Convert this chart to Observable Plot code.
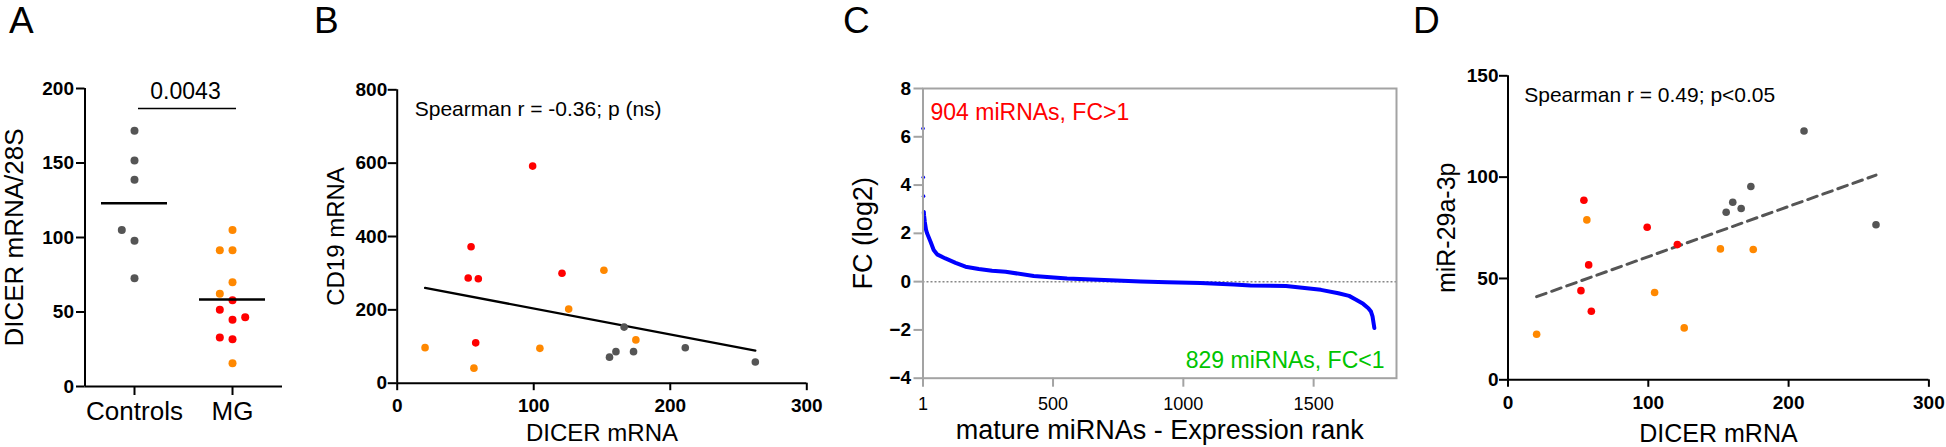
<!DOCTYPE html>
<html>
<head>
<meta charset="utf-8">
<script src="https://cdn.jsdelivr.net/npm/d3@7"></script>
<script src="https://cdn.jsdelivr.net/npm/@observablehq/plot@0.6"></script>
<style>
  html, body { margin: 0; padding: 0; background: #fff; }
  #page { position: relative; width: 1946px; height: 447px; overflow: hidden; background: #fff;
          font-family: "Liberation Sans", Arial, Helvetica, sans-serif; }
  .panel { position: absolute; top: 0; }
  .letter { position: absolute; top: 0px; font-size: 37px; line-height: normal; color: #000; }
</style>
</head>
<body>
<div id="page">
  <div class="letter" style="left:9px">A</div>
  <div class="letter" style="left:314px">B</div>
  <div class="letter" style="left:843px">C</div>
  <div class="letter" style="left:1413px">D</div>
</div>
<script>
// ---------------- DATA ----------------
// Panel A: DICER mRNA / 28S
const groupLabelsA = ["Controls", "MG"];
const controlsA = [171.6, 151.7, 138.8, 97.8, 105.0, 72.7];
const mgA = [105.0, 91.5, 91.5, 70.0, 62.2, 57.9, 51.5, 44.8, 46.5, 31.7, 32.9, 15.6];
const mgSubgroupA = ["MG-2", "MG-2", "MG-2", "MG-2", "MG-2", "MG-1", "MG-1", "MG-1", "MG-1", "MG-1", "MG-1", "MG-2"];
const pValueA = "0.0043";

// Panels B & D: per-subject values
const subjectGroup = ["MG-1", "MG-1", "MG-1", "MG-1", "MG-1", "MG-1",
                      "MG-2", "MG-2", "MG-2", "MG-2", "MG-2", "MG-2",
                      "Control", "Control", "Control", "Control", "Control", "Control"];
const dicerMRNA = [52.0, 54.1, 57.5, 59.4, 99.2, 120.7,
                   20.4, 56.2, 104.5, 125.6, 151.4, 174.8,
                   155.5, 160.2, 166.2, 173.1, 211.0, 262.3];
const cd19MRNA = [287, 372, 110, 285, 592, 300,
                  97, 41, 95, 202, 308, 118,
                  71, 86, 153, 86, 96.5, 58];
const mir29a3p = [44.0, 88.6, 56.7, 33.8, 75.3, 66.7,
                  22.5, 78.9, 43.1, 25.6, 64.6, 64.3,
                  82.7, 87.6, 84.5, 95.4, 122.8, 76.5];
const fitB_x = [20.4, 262.3];
const fitB_y = [260, 89];
const fitD_x = [20.4, 262.3];
const fitD_y = [41, 101];
const labelB = "Spearman r = -0.36; p (ns)";
const labelD = "Spearman r = 0.49; p<0.05";

// Panel C: ranked miRNA fold changes (log2)
const rankC = [1, 2, 3, 4, 5, 8, 13, 17, 30, 42, 55, 87, 126, 164, 215, 266, 318, 426, 554, 720,
               836, 938, 1066, 1194, 1258, 1394, 1528, 1595, 1636, 1663, 1690, 1710, 1720, 1726, 1733];
const fcC = [6.34, 4.32, 3.54, 2.88, 2.75, 2.47, 2.13, 1.99, 1.65, 1.31, 1.13, 0.96, 0.78, 0.62, 0.52, 0.45, 0.41, 0.23, 0.13, 0.06,
             0.01, -0.03, -0.06, -0.12, -0.16, -0.18, -0.34, -0.48, -0.59, -0.75, -0.92, -1.10, -1.24, -1.44, -1.92];
const upLabelC = "904 miRNAs, FC>1";
const downLabelC = "829 miRNAs, FC<1";

// ---------------- STYLE ----------------
const FONT = '"Liberation Sans", Arial, Helvetica, sans-serif';
const colorScale = {domain: ["Control", "MG-1", "MG-2"], range: ["#555555", "#ff0000", "#ff8800"]};
const page = document.getElementById("page");
function place(svg, left) {
  svg.classList.add("panel");
  svg.style.left = left + "px";
  svg.style.top = "0px";
  svg.style.position = "absolute";
  page.appendChild(svg);
}
function style() {
  return {fontFamily: FONT, fontSize: "19px", overflow: "visible", background: "transparent", color: "#000"};
}
const H = 447;

// ---------------- PANEL A ----------------
{
  const W = 300, mL = 84.5, mR = 18, mT = 88, mB = 61;
  const xDom = [0.495, 2.51];
  const yDom = [0, 200];
  const yPx = d3.scaleLinear(yDom, [H - mB, mT]);
  const pxPerX = (W - mL - mR) / (xDom[1] - xDom[0]);
  const step = 12.7; // px between neighbouring columns of the scatter
  function slots(values) {
    const placed = [];
    return values.map(v => {
      const py = yPx(v);
      for (const s of [0, -1, 1, -2, 2, -3, 3]) {
        if (!placed.some(p => p.s === s && Math.abs(p.py - py) < step)) { placed.push({s, py}); return s; }
      }
      return 0;
    });
  }
  const sc = slots(controlsA), sm = slots(mgA);
  const rows = [
    ...controlsA.map((v, i) => ({g: 1, x: 1 + sc[i] * step / pxPerX, value: v, sub: "Control"})),
    ...mgA.map((v, i) => ({g: 2, x: 2 + sm[i] * step / pxPerX, value: v, sub: mgSubgroupA[i]}))
  ];
  const means = [{g: 1, m: d3.mean(controlsA)}, {g: 2, m: d3.mean(mgA)}];
  const half = 33 / pxPerX;
  const bracketY = 186.6;
  const svg = Plot.plot({
    width: W, height: H, marginLeft: mL, marginRight: mR, marginTop: mT, marginBottom: mB,
    style: style(),
    x: {domain: xDom}, y: {domain: yDom},
    color: colorScale,
    marks: [
      Plot.ruleY([0], {x1: xDom[0], x2: xDom[1], stroke: "#000", strokeWidth: 2}),
      Plot.ruleX([xDom[0]], {y1: 0, y2: 200, stroke: "#000", strokeWidth: 2}),
      Plot.axisY({ticks: [0, 50, 100, 150, 200], tickSize: 8.5, tickPadding: 2.5, fontSize: 19, fontWeight: "bold", strokeWidth: 2, label: null}),
      Plot.axisX({ticks: [1, 2], tickFormat: d => groupLabelsA[d - 1], tickSize: 9, tickPadding: 6, fontSize: 26, strokeWidth: 2, label: null}),
      Plot.dot(rows, {x: "x", y: "value", fill: "sub", r: 4}),
      Plot.ruleY(means, {y: "m", x1: d => d.g - half, x2: d => d.g + half, stroke: "#000", strokeWidth: 2.5}),
      Plot.ruleY([bracketY], {x1: 1 + 4 / pxPerX, x2: 2 + 4 / pxPerX, stroke: "#000", strokeWidth: 1.5}),
      Plot.text([pValueA], {x: 1.5 + 2 / pxPerX, y: bracketY, dy: -9, lineAnchor: "bottom", fontSize: 23}),
      Plot.text(["DICER mRNA/28S"], {frameAnchor: "left", dx: 22.5 - mL, rotate: -90, textAnchor: "middle", lineAnchor: "bottom", fontSize: 26})
    ]
  });
  place(svg, 0);
}

// subjects table for B and D
const subjects = dicerMRNA.map((d, i) => ({group: subjectGroup[i], dicer: d, cd19: cd19MRNA[i], mir: mir29a3p[i]}));

// ---------------- PANEL B ----------------
{
  const L = 300, W = 540, mL = 96.7, mR = 33.7, mT = 89.3, mB = 64.3;
  const fit = fitB_x.map((x, i) => ({x, y: fitB_y[i]}));
  const svg = Plot.plot({
    width: W, height: H, marginLeft: mL, marginRight: mR, marginTop: mT, marginBottom: mB,
    style: style(),
    x: {domain: [0, 300]}, y: {domain: [0, 800]},
    color: colorScale,
    marks: [
      Plot.ruleY([0], {x1: 0, x2: 300, stroke: "#000", strokeWidth: 2}),
      Plot.ruleX([0], {y1: 0, y2: 800, stroke: "#000", strokeWidth: 2}),
      Plot.axisY({ticks: [0, 200, 400, 600, 800], tickSize: 9, tickPadding: 1, fontSize: 19, fontWeight: "bold", strokeWidth: 2, label: null}),
      Plot.axisX({ticks: [0, 100, 200, 300], tickSize: 7.5, tickPadding: 8, fontSize: 19, fontWeight: "bold", strokeWidth: 2, label: null}),
      Plot.line(fit, {x: "x", y: "y", stroke: "#000", strokeWidth: 2.3}),
      Plot.dot(subjects, {x: "dicer", y: "cd19", fill: "group", r: 3.8}),
      Plot.text([labelB], {frameAnchor: "top-left", dx: 17.5, dy: 26.4, lineAnchor: "bottom", textAnchor: "start", fontSize: 21}),
      Plot.text(["CD19 mRNA"], {frameAnchor: "left", dx: 343.3 - (L + mL), rotate: -90, textAnchor: "middle", lineAnchor: "bottom", fontSize: 24}),
      Plot.text(["DICER mRNA"], {frameAnchor: "bottom", dy: 58, textAnchor: "middle", lineAnchor: "bottom", fontSize: 24})
    ]
  });
  place(svg, L);
}

// ---------------- PANEL C ----------------
{
  const L = 820, W = 600, mL = 102.5, mR = 24, mT = 88, mB = 69.3;
  const curve = rankC.map((r, i) => ({rank: r, fc: fcC[i]}));
  const gray = "#a3a3a3";
  const svg = Plot.plot({
    width: W, height: H, marginLeft: mL, marginRight: mR, marginTop: mT, marginBottom: mB,
    style: style(),
    x: {domain: [1, 1818]}, y: {domain: [-4, 8]},
    marks: [
      Plot.ruleY([0], {stroke: "#888", strokeWidth: 1.5, strokeDasharray: "2,2"}),
      Plot.line(curve.slice(3), {x: "rank", y: "fc", stroke: "#0000ff", strokeWidth: 4}),
      Plot.dot(curve.slice(0, 4), {x: "rank", y: "fc", fill: "#0000ff", r: 1.8}),
      Plot.frame({stroke: gray, strokeWidth: 2}),
      Plot.axisY({ticks: [-4, -2, 0, 2, 4, 6, 8], tickSize: 9, tickPadding: 3, fontSize: 19, fontWeight: "bold", stroke: gray, strokeWidth: 2, label: null}),
      Plot.axisX({ticks: [1, 500, 1000, 1500], tickFormat: d => String(d), tickSize: 9, tickPadding: 10, fontSize: 18, stroke: gray, strokeWidth: 2, label: null}),
      Plot.text([upLabelC], {frameAnchor: "top-left", dx: 7.5, dy: 31, lineAnchor: "bottom", textAnchor: "start", fill: "#ff0000", fontSize: 23}),
      Plot.text([downLabelC], {frameAnchor: "bottom-right", dx: -12, dy: -10, lineAnchor: "bottom", textAnchor: "end", fill: "#00c400", fontSize: 23}),
      Plot.text(["FC (log2)"], {frameAnchor: "left", dx: 871.7 - (L + mL), rotate: -90, textAnchor: "middle", lineAnchor: "bottom", fontSize: 27}),
      Plot.text(["mature miRNAs - Expression rank"], {frameAnchor: "bottom", dy: 60.6, textAnchor: "middle", lineAnchor: "bottom", fontSize: 27})
    ]
  });
  place(svg, L);
}

// ---------------- PANEL D ----------------
{
  const L = 1400, W = 546, mL = 107.5, mR = 17.6, mT = 75.3, mB = 67.7;
  const fit = fitD_x.map((x, i) => ({x, y: fitD_y[i]}));
  const svg = Plot.plot({
    width: W, height: H, marginLeft: mL, marginRight: mR, marginTop: mT, marginBottom: mB,
    style: style(),
    x: {domain: [0, 300]}, y: {domain: [0, 150]},
    color: colorScale,
    marks: [
      Plot.ruleY([0], {x1: 0, x2: 300, stroke: "#000", strokeWidth: 2}),
      Plot.ruleX([0], {y1: 0, y2: 150, stroke: "#000", strokeWidth: 2}),
      Plot.axisY({ticks: [0, 50, 100, 150], tickSize: 8.5, tickPadding: 1, fontSize: 19, fontWeight: "bold", strokeWidth: 2, label: null}),
      Plot.axisX({ticks: [0, 100, 200, 300], tickSize: 7.5, tickPadding: 8, fontSize: 19, fontWeight: "bold", strokeWidth: 2, label: null}),
      Plot.line(fit, {x: "x", y: "y", stroke: "#555555", strokeWidth: 3, strokeDasharray: "10,6"}),
      Plot.dot(subjects, {x: "dicer", y: "mir", fill: "group", r: 3.8}),
      Plot.text([labelD], {frameAnchor: "top-left", dx: 16.2, dy: 26.4, lineAnchor: "bottom", textAnchor: "start", fontSize: 21}),
      Plot.text(["miR-29a-3p"], {frameAnchor: "left", dx: 1454 - (L + mL), rotate: -90, textAnchor: "middle", lineAnchor: "bottom", fontSize: 25}),
      Plot.text(["DICER mRNA"], {frameAnchor: "bottom", dy: 61.7, textAnchor: "middle", lineAnchor: "bottom", fontSize: 25})
    ]
  });
  place(svg, L);
}
</script>
</body>
</html>
